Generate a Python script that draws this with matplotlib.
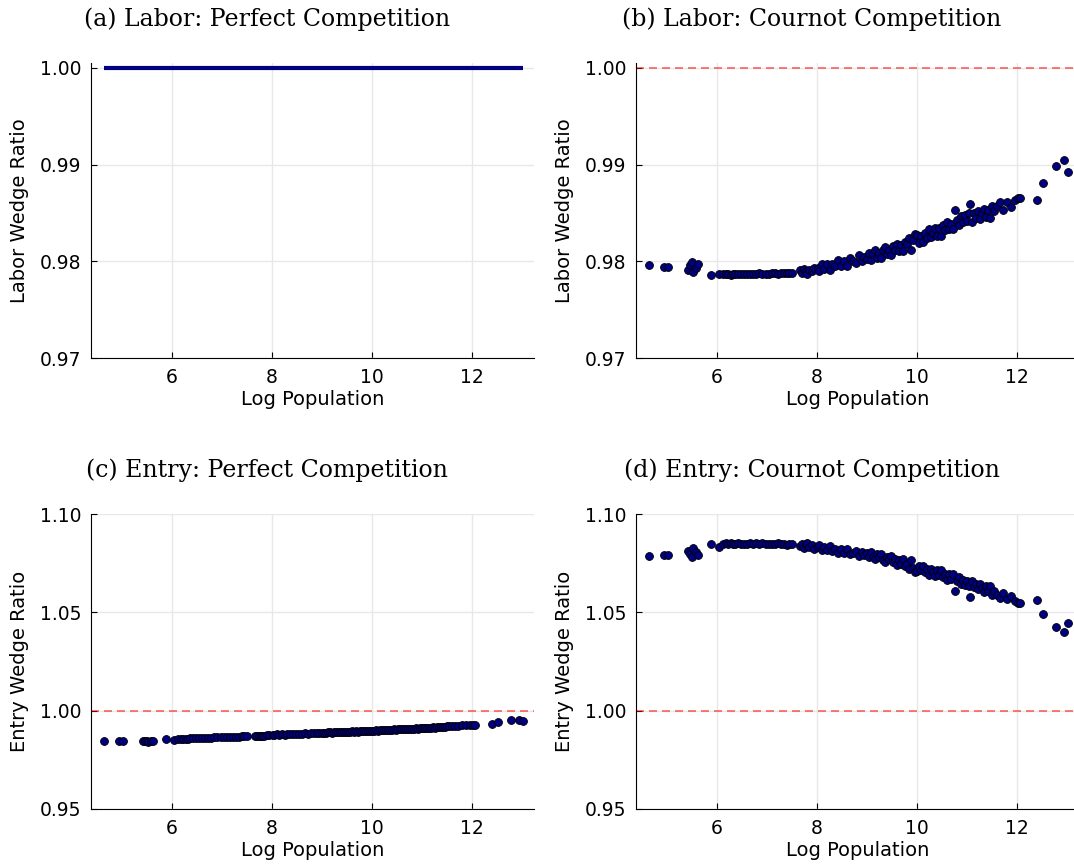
import numpy as np
import matplotlib
matplotlib.use('Agg')
import matplotlib.pyplot as plt

plt.rcParams['font.family'] = 'DejaVu Sans'

# log population of each city (same cities in every panel)
log_pop = [4.64, 4.94, 5.02, 5.42, 5.46, 5.50, 5.52, 5.58, 5.62, 5.88, 6.04,
           6.12, 6.18, 6.22, 6.28, 6.33, 6.37, 6.42, 6.48, 6.55, 6.60, 6.66, 6.72, 6.78,
           6.84, 6.90, 6.98, 7.05, 7.10, 7.16, 7.22, 7.28, 7.34, 7.40, 7.44, 7.50,
           7.66, 7.70, 7.74, 7.78, 7.80, 7.85, 7.90, 7.95,
           8.02, 8.05, 8.10, 8.15, 8.20, 8.26, 8.30, 8.36, 8.42, 8.48, 8.55, 8.60, 8.66,
           8.72, 8.78, 8.84, 8.90, 8.95,
           9.00, 9.04, 9.08, 9.12, 9.16, 9.20, 9.24, 9.28, 9.32, 9.36, 9.40, 9.44, 9.48,
           9.52, 9.56, 9.60, 9.64, 9.68, 9.72, 9.76, 9.80, 9.84, 9.88, 9.92, 9.96,
           10.00, 10.04, 10.08, 10.12, 10.16, 10.20, 10.24, 10.28, 10.32, 10.36, 10.40,
           10.44, 10.48, 10.52, 10.56, 10.60, 10.64, 10.68, 10.72, 10.76, 10.80, 10.84,
           10.88, 10.92, 10.96,
           11.00, 11.04, 11.06, 11.10, 11.14, 11.18, 11.22, 11.26, 11.30, 11.34, 11.38,
           11.42, 11.46, 11.50, 11.55, 11.60, 11.66, 11.72, 11.80, 11.88, 11.96, 12.02, 12.06,
           12.40, 12.52, 12.78, 12.94, 13.02]

# (a) labor wedge, perfect competition: identically one
labor_perfect = [1.0] * len(log_pop)

# (b) labor wedge, cournot
labor_cournot = [0.97964, 0.97946, 0.97946, 0.97912, 0.97962, 0.97988, 0.97885, 0.97935, 0.97972, 0.97860, 0.97868,
                 0.97866, 0.97864, 0.97868, 0.97862, 0.97865, 0.97870, 0.97864, 0.97866, 0.97868, 0.97872, 0.97866, 0.97870, 0.97868,
                 0.97874, 0.97866, 0.97872, 0.97870, 0.97876, 0.97874, 0.97872, 0.97878, 0.97876, 0.97882, 0.97874, 0.97880,
                 0.97910, 0.97880, 0.97925, 0.97895, 0.97870, 0.97915, 0.97900, 0.97935,
                 0.97932, 0.97896, 0.97972, 0.97918, 0.97974, 0.97911, 0.97976, 0.97953, 0.98010, 0.97948, 0.98006, 0.97952, 0.98029,
                 0.98006, 0.97984, 0.98061, 0.98008, 0.98044,
                 0.98020, 0.98086, 0.98011, 0.98077, 0.98112, 0.98038, 0.98084, 0.98029, 0.98115, 0.98150, 0.98076, 0.98112, 0.98067,
                 0.98154, 0.98113, 0.98182, 0.98111, 0.98170, 0.98108, 0.98197, 0.98176, 0.98245, 0.98114, 0.98222, 0.98281,
                 0.98270, 0.98188, 0.98257, 0.98195, 0.98294, 0.98242, 0.98330, 0.98249, 0.98297, 0.98346, 0.98264,
                 0.98342, 0.98261, 0.98370, 0.98320, 0.98410, 0.98330, 0.98390, 0.98330, 0.98533, 0.98430, 0.98370,
                 0.98470, 0.98410, 0.98480,
                 0.98420, 0.98494, 0.98590, 0.98410, 0.98494, 0.98448, 0.98522, 0.98436, 0.98500, 0.98544, 0.98458,
                 0.98532, 0.98446, 0.98570, 0.98521, 0.98572, 0.98615, 0.98528, 0.98616, 0.98564, 0.98631, 0.98654, 0.98653,
                 0.98629, 0.98810, 0.98985, 0.99042, 0.98925]

# (c) entry wedge, perfect competition
entry_perfect = [0.9844, 0.9845, 0.9845, 0.9846, 0.9848, 0.9845, 0.9843, 0.9846, 0.9844, 0.9857, 0.9853,
                 0.9856, 0.9857, 0.9857, 0.9858, 0.9858, 0.9859, 0.9860, 0.9859, 0.9861, 0.9861, 0.9862, 0.9863, 0.9862,
                 0.9864, 0.9864, 0.9865, 0.9866, 0.9866, 0.9867, 0.9867, 0.9868, 0.9868, 0.9869, 0.9869, 0.9870,
                 0.9870, 0.9871, 0.9872, 0.9872, 0.9873, 0.9873, 0.9874, 0.9875,
                 0.9877, 0.9876, 0.9879, 0.9877, 0.9880, 0.9878, 0.9881, 0.9879, 0.9882, 0.9880, 0.9883, 0.9882, 0.9884,
                 0.9883, 0.9884, 0.9886, 0.9884, 0.9886,
                 0.9886, 0.9888, 0.9887, 0.9889, 0.9890, 0.9888, 0.9890, 0.9889, 0.9892, 0.9892, 0.9891, 0.9893, 0.9891,
                 0.9894, 0.9893, 0.9895, 0.9893, 0.9896, 0.9894, 0.9897, 0.9896, 0.9898, 0.9895, 0.9898, 0.9899,
                 0.9899, 0.9898, 0.9900, 0.9898, 0.9901, 0.9900, 0.9902, 0.9900, 0.9902, 0.9904, 0.9902,
                 0.9905, 0.9903, 0.9906, 0.9905, 0.9907, 0.9905, 0.9908, 0.9906, 0.9909, 0.9909, 0.9908,
                 0.9911, 0.9909, 0.9911,
                 0.9910, 0.9912, 0.9912, 0.9911, 0.9914, 0.9913, 0.9915, 0.9914, 0.9916, 0.9917, 0.9916,
                 0.9918, 0.9917, 0.9920, 0.9920, 0.9922, 0.9923, 0.9922, 0.9925, 0.9925, 0.9928, 0.9929, 0.9929,
                 0.9930, 0.9940, 0.9952, 0.9953, 0.9948]

# (d) entry wedge, cournot
entry_cournot = [1.0787, 1.0794, 1.0794, 1.0812, 1.0795, 1.0783, 1.0826, 1.0806, 1.0792, 1.0847, 1.0833,
                 1.0849, 1.0853, 1.0850, 1.0854, 1.0850, 1.0848, 1.0852, 1.0850, 1.0849, 1.0846, 1.0851, 1.0849, 1.0852,
                 1.0847, 1.0851, 1.0849, 1.0850, 1.0846, 1.0849, 1.0851, 1.0845, 1.0849, 1.0844, 1.0849, 1.0846,
                 1.0838, 1.0848, 1.0828, 1.0845, 1.0851, 1.0834, 1.0842, 1.0820,
                 1.0830, 1.0843, 1.0816, 1.0834, 1.0815, 1.0836, 1.0813, 1.0821, 1.0800, 1.0822, 1.0802, 1.0821, 1.0795,
                 1.0803, 1.0812, 1.0786, 1.0805, 1.0792,
                 1.0802, 1.0779, 1.0805, 1.0782, 1.0770, 1.0796, 1.0779, 1.0799, 1.0768, 1.0756, 1.0782, 1.0769, 1.0785,
                 1.0754, 1.0769, 1.0743, 1.0768, 1.0748, 1.0769, 1.0738, 1.0744, 1.0720, 1.0765, 1.0727, 1.0707,
                 1.0710, 1.0738, 1.0715, 1.0737, 1.0703, 1.0721, 1.0691, 1.0720, 1.0703, 1.0687, 1.0715,
                 1.0689, 1.0717, 1.0679, 1.0697, 1.0665, 1.0693, 1.0672, 1.0693, 1.0606, 1.0658, 1.0678,
                 1.0643, 1.0664, 1.0640,
                 1.0661, 1.0633, 1.0580, 1.0661, 1.0630, 1.0644, 1.0617, 1.0646, 1.0622, 1.0605, 1.0634,
                 1.0607, 1.0636, 1.0590, 1.0607, 1.0588, 1.0571, 1.0600, 1.0568, 1.0584, 1.0558, 1.0549, 1.0549,
                 1.0563, 1.0490, 1.0425, 1.0398, 1.0444]

titles = ['(a) Labor: Perfect Competition', '(b) Labor: Cournot Competition',
          '(c) Entry: Perfect Competition', '(d) Entry: Cournot Competition']
ylabels = ['Labor Wedge Ratio', 'Labor Wedge Ratio', 'Entry Wedge Ratio', 'Entry Wedge Ratio']
xticks = [6, 8, 10, 12]
yticks_labor = [0.97, 0.98, 0.99, 1.00]
yticks_entry = [0.95, 1.00, 1.05, 1.10]

W, H = 1074, 867
fig = plt.figure(figsize=(W / 100, H / 100), dpi=100)

# axes boxes in pixels: left, top, width, height
boxes = [(91, 63, 443, 295), (636, 63, 443, 295),
         (91, 514, 443, 295), (636, 514, 443, 295)]
axes = []
for (l, t, w, h) in boxes:
    axes.append(fig.add_axes([l / W, (H - t - h) / H, w / W, h / H]))

navy = '#000080'
for i, ax in enumerate(axes):
    if i == 0:
        ax.plot(log_pop, labor_perfect, color=navy, lw=3, solid_capstyle='butt', zorder=3)
    else:
        y = [labor_cournot, entry_perfect, entry_cournot][i - 1]
        ax.scatter(log_pop, y, s=32, color=navy, edgecolor='black', linewidth=0.6, zorder=3)
        # reference line at a ratio of one
        ax.axhline(1.0, color='red', alpha=0.6, lw=1.2, ls=(0, (4.8, 3)), zorder=2)

    ax.set_xlim(4.39, 13.25)
    ax.set_xticks(xticks)
    if i < 2:
        ax.set_ylim(0.97, 1.0005)
        ax.set_yticks(yticks_labor)
    else:
        ax.set_ylim(0.95, 1.10)
        ax.set_yticks(yticks_entry)
    ax.yaxis.set_major_formatter(matplotlib.ticker.FormatStrFormatter('%.2f'))

    ax.grid(True, color='#e8e8e8', lw=1, zorder=0)
    ax.set_axisbelow(True)
    for s in ['top', 'right']:
        ax.spines[s].set_visible(False)
    ax.tick_params(direction='in', length=4, width=0.8, labelsize=13.5, pad=7)

    l, t, w, h = boxes[i]
    ax.set_xlabel('Log Population', fontsize=14, labelpad=2)
    fig.text((l - 71) / W, 1 - (t + h / 2) / H, ylabels[i], rotation=90,
             ha='center', va='center', fontsize=14)
    fig.text((l - 91 + 267) / W, 1 - (t - 44) / H, titles[i], ha='center', va='center',
             fontsize=17, family='DejaVu Serif')

fig.savefig('out.png', dpi=100)
